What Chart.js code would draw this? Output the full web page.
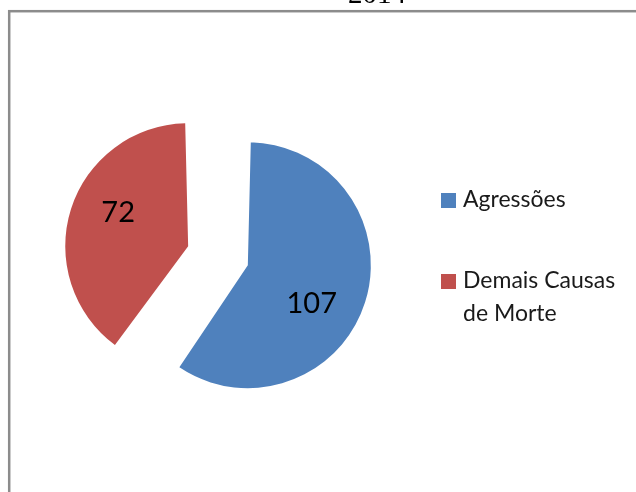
<!DOCTYPE html>
<html>
<head>
<meta charset="utf-8">
<script src="https://cdn.jsdelivr.net/npm/chart.js@4/dist/chart.umd.min.js"></script>
<style>
  html, body { margin: 0; padding: 0; background: #ffffff; }
  #wrap { position: relative; width: 636px; height: 492px; }
</style>
</head>
<body>
<div id="wrap"><canvas id="c" width="636" height="492"></canvas></div>
<script>
const titleText = '2014';
const categories = ['Agressões', 'Demais Causas de Morte'];
const legendLines = [['Agressões'], ['Demais Causas', 'de Morte']];
const values = [107, 72];
const colors = ['#4F81BD', '#C0504D'];
const sliceOffsets = [74.8, 175.6];
const labelAngleShift = [0.23, 0.145];
const labelDistance = [0.605, 0.633];

const framePlugin = {
  id: 'frame',
  beforeDraw(chart) {
    const ctx = chart.ctx;
    ctx.save();
    ctx.fillStyle = '#ffffff';
    ctx.fillRect(0, 0, chart.width, chart.height);
    ctx.strokeStyle = '#8c8c8c';
    ctx.lineWidth = 2.5;
    ctx.strokeRect(9.2, 11.2, 800, 800);
    ctx.fillStyle = '#000000';
    ctx.font = '29px "Liberation Serif"';
    ctx.textAlign = 'center';
    ctx.textBaseline = 'alphabetic';
    ctx.fillText(titleText, 377, 2.5);
    ctx.restore();
  }
};

const labelPlugin = {
  id: 'sliceLabels',
  afterDatasetsDraw(chart) {
    const ctx = chart.ctx;
    const meta = chart.getDatasetMeta(0);
    ctx.save();
    ctx.fillStyle = '#000000';
    ctx.font = '29px Lato';
    ctx.textAlign = 'center';
    ctx.textBaseline = 'middle';
    meta.data.forEach((arc, i) => {
      const p = arc.getProps(['x', 'y', 'startAngle', 'endAngle', 'outerRadius', 'circumference'], true);
      const h = (p.startAngle + p.endAngle) / 2;
      const t = (arc.options.offset || 0) / 4;
      const fix = 1 - Math.sin(Math.min(Math.PI, p.circumference));
      const r = p.outerRadius + t * fix;
      const vx = p.x + Math.cos(h) * t;
      const vy = p.y + Math.sin(h) * t;
      const a = h + labelAngleShift[i];
      const d = r * labelDistance[i];
      ctx.fillText(String(values[i]), vx + Math.cos(a) * d, vy + Math.sin(a) * d);
    });
    ctx.restore();
  }
};

const legendPlugin = {
  id: 'sideLegend',
  afterDraw(chart) {
    const ctx = chart.ctx;
    const boxX = 441, textX = 463, box = 15;
    const boxTops = [193, 274];
    const baselines = [[207], [288, 321]];
    ctx.save();
    ctx.font = '23px Lato';
    ctx.textAlign = 'left';
    ctx.textBaseline = 'alphabetic';
    categories.forEach((c, i) => {
      ctx.fillStyle = colors[i];
      ctx.fillRect(boxX, boxTops[i], box, box);
      ctx.fillStyle = '#1a1a1a';
      legendLines[i].forEach((line, j) => ctx.fillText(line, textX, baselines[i][j]));
    });
    ctx.restore();
  }
};

new Chart(document.getElementById('c'), {
  type: 'pie',
  data: {
    labels: categories,
    datasets: [{
      data: values,
      backgroundColor: colors,
      borderWidth: 0,
      offset: sliceOffsets
    }]
  },
  options: {
    responsive: false,
    animation: false,
    radius: 104.3,
    layout: { padding: { left: 80, right: 256, top: 109.5, bottom: 82.5 } },
    plugins: {
      legend: { display: false },
      title: { display: false },
      tooltip: { enabled: false }
    }
  },
  plugins: [framePlugin, labelPlugin, legendPlugin]
});
</script>
</body>
</html>
